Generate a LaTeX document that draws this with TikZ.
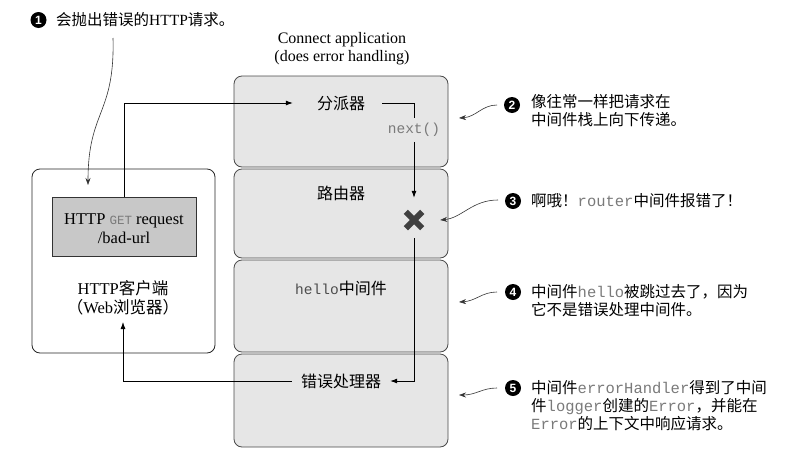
\documentclass[tikz,border=0pt]{standalone}
\usepackage{fontspec}
\setmainfont{Liberation Serif}
\newfontfamily\cjk{Noto Sans CJK SC}
\newfontfamily\monof{Liberation Mono}
\newfontfamily\numf{Liberation Sans}
\usetikzlibrary{arrows.meta}
\definecolor{stackfill}{HTML}{E6E6E6}
\definecolor{stackdraw}{HTML}{4A4A4A}
\definecolor{reqfill}{HTML}{C8C8C8}
\definecolor{codegray}{HTML}{7A7A7A}
\definecolor{xgray}{HTML}{404040}
\definecolor{notegray}{HTML}{333333}
\newcommand{\zh}[1]{{\cjk #1}}
\newcommand{\cd}[1]{{\monof\color{codegray}#1}}
\begin{document}
\begin{tikzpicture}[x=1pt,y=-1pt,
  stackbox/.style={draw=stackdraw, fill=stackfill, rounded corners=8pt, line width=0.8pt, minimum width=214pt, inner sep=0pt},
  clientbox/.style={draw=black!85, fill=white, rounded corners=8pt, line width=0.8pt, inner sep=0pt},
  reqbox/.style={draw=black!80, fill=reqfill, line width=0.8pt, inner sep=0pt, minimum width=144pt, minimum height=59pt},
  lbl/.style={inner sep=0pt, font=\fontsize{16}{18}\selectfont},
  conn/.style={line width=0.8pt, draw=black},
  tipA/.style={-{Latex[length=7pt,width=5pt]}},
  note/.style={inner sep=0pt, anchor=west, align=left, font=\fontsize{15.5}{18}\selectfont},
  notearrow/.style={line width=0.6pt, draw=notegray, -{Stealth[length=7pt,width=5pt]}},
  num/.style={circle, fill=black, text=white, inner sep=0pt, minimum size=16pt, font=\numf\bfseries\fontsize{12}{12}\selectfont}
]
\useasboundingbox (0,0) rectangle (801,461);
\fill[white] (0,0) rectangle (801,461);

% title
\node[lbl, align=center] (title) at (342,49) {Connect application\\(does error handling)};

% stack of middleware boxes
\node[stackbox, minimum height=91pt] (b1) at (341,121.5) {};
\node[stackbox, minimum height=89pt] (b2) at (341,213.5) {};
\node[stackbox, minimum height=92pt] (b3) at (341,306) {};
\node[stackbox, minimum height=93pt] (b4) at (341,400.5) {};

\node[lbl] (disp) at (341,103) {\zh{分派器}};
\node[lbl] (router) at (341,193) {\zh{路由器}};
\node[lbl] (hello) at (341,288) {{\monof\color{black!70}\fontsize{14.5}{18}\selectfont hello}\zh{中间件}};
\node[lbl] (err) at (341,381) {\zh{错误处理器}};

% client
\node[clientbox, minimum width=183pt, minimum height=184pt] (client) at (123.5,261) {};
\node[reqbox] (req) at (124,226.5) {};
\node[lbl, align=center, font=\fontsize{16.5}{19}\selectfont] (reqtext) at (124,228.5) {HTTP {\monof\color{codegray}\fontsize{12.5}{19}\selectfont GET} request\\/bad-url};
\node[lbl, align=center, font=\fontsize{16.5}{19}\selectfont] (ctext) at (123,297.5) {HTTP\zh{客户端}\\\zh{（}Web\zh{浏览器）}};

% next() label and error mark
\node[inner sep=5pt, font=\monof\fontsize{14.5}{16}\selectfont, text=codegray] (next) at (414,130) {next()};
\node[inner sep=0pt, minimum size=16pt] (xmark) at (414,220) {};
\draw[xgray, line width=6pt] (xmark.north west) -- (xmark.south east);
\draw[xgray, line width=6pt] (xmark.north east) -- (xmark.south west);

\coordinate (cin) at (123,322);

% connectors
\draw[conn, tipA, shorten >=24pt] (req.north) |- (disp.west);
\draw[conn, shorten <=17pt] (disp.east) -| (next.north);
\draw[conn, tipA, shorten >=14pt] (next.south) -- (xmark.north);
\draw[conn, tipA, shorten <=10pt, shorten >=9pt] (xmark.south) |- (err.east);
\draw[conn, tipA, shorten <=9pt] (err.west) -| (cin);

% annotations
\node[num] (n1) at (38.5,20) {1};
\node[note] (note1) at (56,20) {\zh{会抛出错误的}HTTP\zh{请求。}};
\coordinate (a1s) at (113,38);
\coordinate (a1e) at (88,185);
\draw[notearrow] (a1s) .. controls (115,115) and (88,110) .. (a1e);

\node[num] (n2) at (512,105) {2};
\node[note] (note2) at (531,111) {\zh{像往常一样把请求在}\\\zh{中间件栈上向下传递。}};
\coordinate (a2s) at (497,105);
\coordinate (a2e) at (459,118);
\draw[notearrow] (a2s) .. controls (482,105) and (476,117) .. (a2e);

\node[num] (n3) at (513,201) {3};
\node[note] (note3) at (531,201) {\zh{啊哦！}\cd{router}\zh{中间件报错了！}};
\coordinate (a3s) at (498,200);
\draw[notearrow] (a3s) .. controls (472,200) and (462,218) .. ([xshift=18pt]xmark.east);

\node[num] (n4) at (513,292) {4};
\node[note] (note4) at (531,301) {\zh{中间件}\cd{hello}\zh{被跳过去了，因为}\\\zh{它不是错误处理中间件。}};
\coordinate (a4s) at (497,292);
\coordinate (a4e) at (459,302);
\draw[notearrow] (a4s) .. controls (482,292) and (476,301) .. (a4e);

\node[num] (n5) at (513,388) {5};
\node[note] (note5) at (531,406) {\zh{中间件}\cd{errorHandler}\zh{得到了中间}\\\zh{件}\cd{logger}\zh{创建的}\cd{Error}\zh{，并能在}\\\cd{Error}\zh{的上下文中响应请求。}};
\coordinate (a5s) at (497,388);
\coordinate (a5e) at (459,395);
\draw[notearrow] (a5s) .. controls (482,388) and (476,395) .. (a5e);
\end{tikzpicture}
\end{document}
